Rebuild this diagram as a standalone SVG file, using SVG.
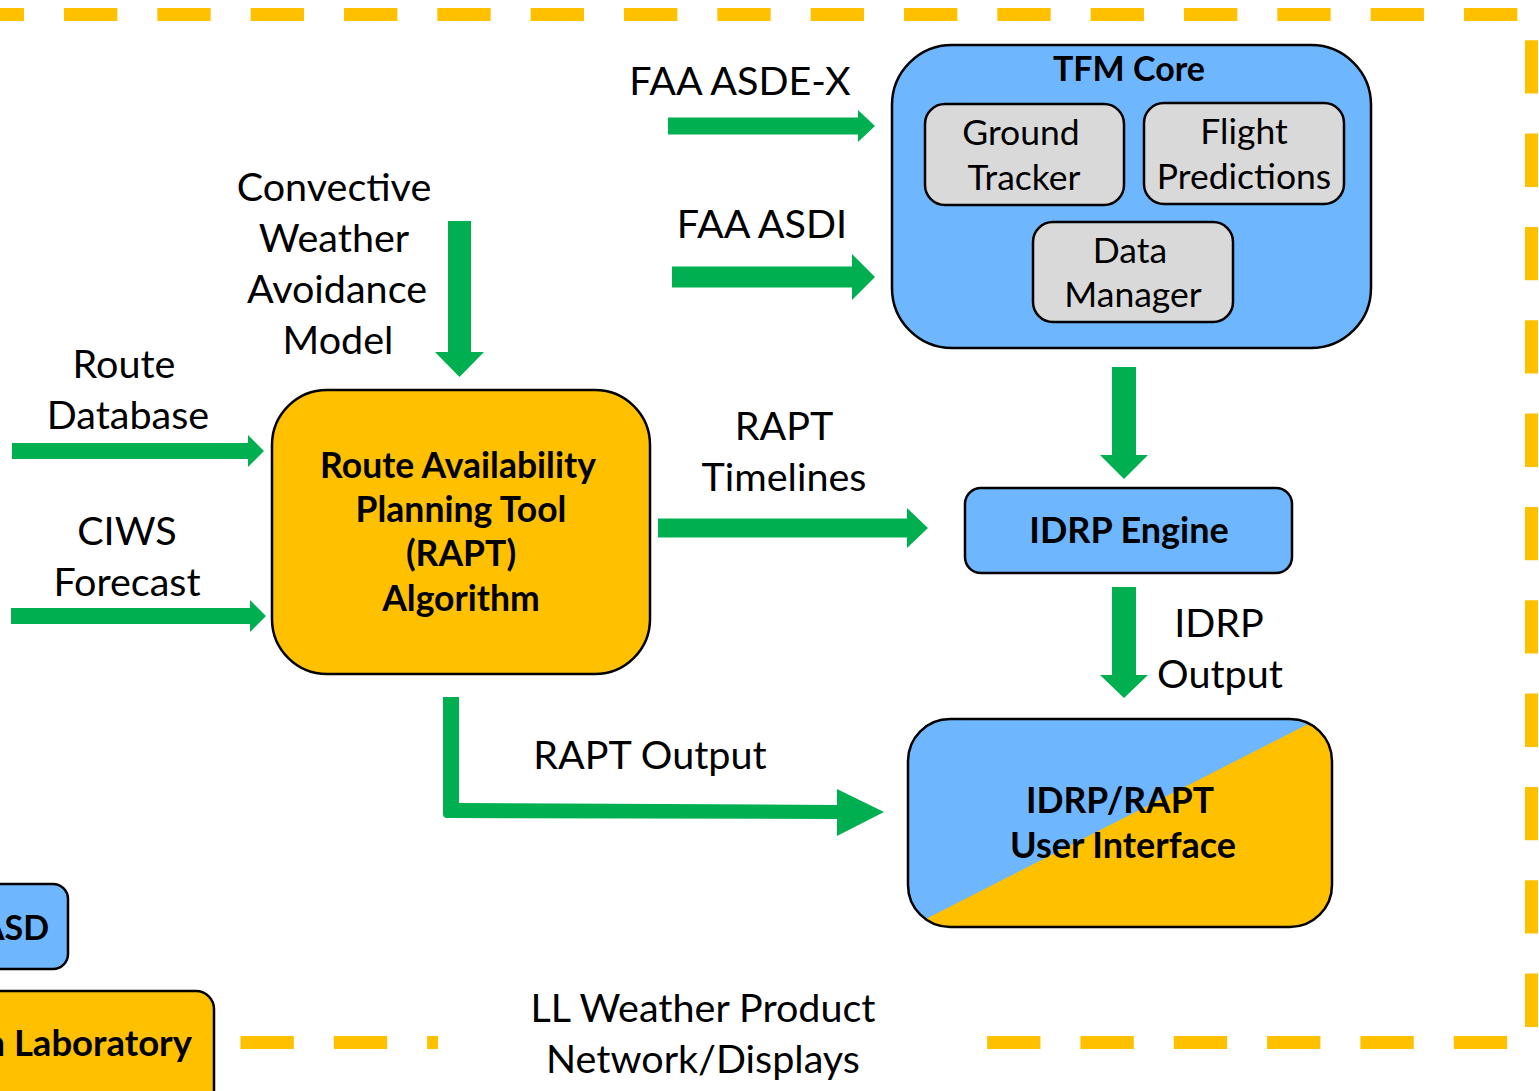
<svg xmlns="http://www.w3.org/2000/svg" width="1539" height="1091" viewBox="0 0 1539 1091">
<style>
.lbl{font-family:Lato,"Open Sans","Liberation Sans",sans-serif;font-size:39.5px;fill:#000;text-anchor:middle}
.sm{font-family:Lato,"Open Sans","Liberation Sans",sans-serif;font-size:35.5px;fill:#000;text-anchor:middle}
.bold{font-family:Lato,"Open Sans","Liberation Sans",sans-serif;font-weight:bold;fill:#000;text-anchor:middle}
.box{stroke:#000;stroke-width:2.5}
.blue{fill:#6EB6FE}
.orange{fill:#FFC000}
.grey{fill:#D9D9D9}
.arrow{fill:#00B050}
</style>
<defs>
<clipPath id="uiclip"><rect x="908" y="719" width="424" height="208" rx="42"/></clipPath>
</defs>
<rect width="1539" height="1091" fill="#fff"/>
<g id="border">
<path d="M -29.33 14.5 H 1531.5 V 1042.5 H -100" fill="none" stroke="#FFC000" stroke-width="13" stroke-dasharray="53.33 40"/>
<rect x="438" y="985" width="532" height="106" fill="#fff"/>
</g>
<g id="legend-asd">
<rect class="box blue" x="-30" y="884" width="98" height="85" rx="15"/>
<text class="bold" x="49" y="940" font-size="34" style="text-anchor:end">ASD</text>
</g>
<g id="legend-lab">
<rect class="box orange" x="-30" y="991" width="244" height="130" rx="18"/>
<text class="bold" x="192" y="1056" font-size="36.5" style="text-anchor:end">n Laboratory</text>
</g>
<g id="tfm-core">
<rect class="box blue" x="892" y="45" width="479" height="303" rx="60"/>
<text class="bold" x="1129" y="81" font-size="34">TFM Core</text>
</g>
<g id="ground-tracker">
<rect class="box grey" x="925" y="104" width="199" height="101" rx="20"/>
<text class="sm" x="1021" y="145">Ground</text>
<text class="sm" x="1024" y="190">Tracker</text>
</g>
<g id="flight-predictions">
<rect class="box grey" x="1144" y="103" width="200" height="101" rx="20"/>
<text class="sm" x="1244" y="144">Flight</text>
<text class="sm" x="1244" y="189">Predictions</text>
</g>
<g id="data-manager">
<rect class="box grey" x="1033" y="222" width="200" height="100" rx="20"/>
<text class="sm" x="1130" y="263">Data</text>
<text class="sm" x="1133" y="307">Manager</text>
</g>
<g id="rapt">
<rect class="box orange" x="272" y="390" width="378" height="284" rx="55"/>
<text class="bold" x="458" y="478" font-size="35.5">Route Availability</text>
<text class="bold" x="461" y="522" font-size="35.5">Planning Tool</text>
<text class="bold" x="461" y="566" font-size="35.5">(RAPT)</text>
<text class="bold" x="461" y="611" font-size="35.5">Algorithm</text>
</g>
<g id="idrp-engine">
<rect class="box blue" x="965" y="488" width="327" height="85" rx="16"/>
<text class="bold" x="1129" y="543" font-size="36">IDRP Engine</text>
</g>
<g id="idrp-rapt-ui">
<g clip-path="url(#uiclip)">
<rect class="orange" x="908" y="719" width="424" height="208"/>
<polygon class="blue" points="900,719 1318,719 910,927 900,927"/>
</g>
<rect x="908" y="719" width="424" height="208" rx="42" fill="none" stroke="#000" stroke-width="2.5"/>
<text class="bold" x="1120" y="813" font-size="35.5">IDRP/RAPT</text>
<text class="bold" x="1123" y="858" font-size="36">User Interface</text>
</g>
<g id="connectors">
<polygon class="arrow" points="668,117.5 858,117.5 858,110 875,126 858,142 858,134.5 668,134.5"/>
<polygon class="arrow" points="672,266.5 852,266.5 852,254 875,277 852,300 852,287.5 672,287.5"/>
<polygon class="arrow" points="448,221 471,221 471,352 484,352 459.5,377 435,352 448,352"/>
<polygon class="arrow" points="12,443 248,443 248,435 264,451 248,467 248,459 12,459"/>
<polygon class="arrow" points="11,608 250,608 250,600 266,616 250,632 250,624 11,624"/>
<polygon class="arrow" points="658,518.5 907,518.5 907,508 928,528 907,548 907,537.5 658,537.5"/>
<polygon class="arrow" points="1112,367 1136,367 1136,455 1148,455 1124,479 1100,455 1112,455"/>
<polygon class="arrow" points="1112,587 1136,587 1136,675 1148,675 1124,698 1100,675 1112,675"/>
<path class="arrow" d="M443 697 H459 V803 L837 805 V789 L884 812 L837 836 V819 L447 818 Q443 818 443 814 Z"/>
</g>
<g id="labels">
<text class="lbl" x="740" y="95">FAA ASDE-X</text>
<text class="lbl" x="762" y="238">FAA ASDI</text>
<text class="lbl" x="334" y="201">Convective</text>
<text class="lbl" x="334" y="252">Weather</text>
<text class="lbl" x="337" y="303">Avoidance</text>
<text class="lbl" x="338" y="354">Model</text>
<text class="lbl" x="124" y="378">Route</text>
<text class="lbl" x="128" y="429">Database</text>
<text class="lbl" x="127" y="545">CIWS</text>
<text class="lbl" x="127" y="596">Forecast</text>
<text class="lbl" x="784" y="440">RAPT</text>
<text class="lbl" x="784" y="491">Timelines</text>
<text class="lbl" x="1219" y="637">IDRP</text>
<text class="lbl" x="1220" y="688">Output</text>
<text class="lbl" x="650" y="769">RAPT Output</text>
<text class="lbl" x="703" y="1022">LL Weather Product</text>
<text class="lbl" x="703" y="1073">Network/Displays</text>
</g>
</svg>
